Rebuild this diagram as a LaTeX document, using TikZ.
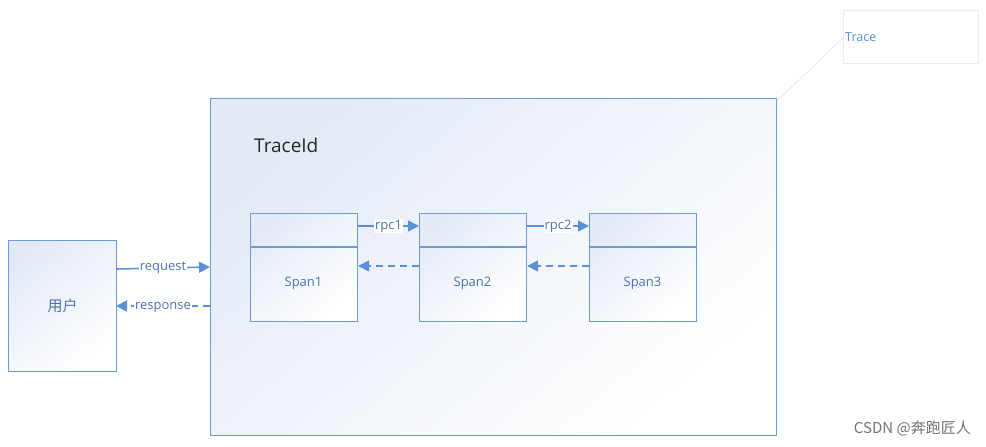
\documentclass[tikz,border=0pt]{standalone}
\usepackage{fontspec}
\setmainfont{Open Sans}
\newfontfamily\cjk{Noto Sans CJK SC}
\usetikzlibrary{arrows.meta}
\definecolor{edge}{HTML}{6E9BD3}
\definecolor{arr}{HTML}{5B8FD6}
\definecolor{txt}{HTML}{4A74B0}
\definecolor{fillA}{HTML}{E3EAF6}
\definecolor{tracebd}{HTML}{E6EDF8}
\tikzset{
  box/.style={draw=edge, line width=1.2pt, top color=fillA, bottom color=white, shading angle=40},
  conn/.style={draw=arr, line width=1.6pt, -{Triangle[length=11pt,width=11pt]}},
  lbl/.style={text=txt, font=\fontsize{13}{15}\selectfont, fill=white, inner sep=1pt},
  spanlbl/.style={text=txt, font=\fontsize{13}{15}\selectfont},
}
\begin{document}
\begin{tikzpicture}[x=1pt,y=-1pt]
\useasboundingbox (0,0) rectangle (986,447);
\fill[white] (0,0) rectangle (986,447);
% Trace callout
\node[draw=tracebd, line width=1pt, minimum width=135pt, minimum height=53pt, anchor=north west, inner sep=0pt] (tracebox) at (843,10) {};
\node[text=arr, font=\fontsize{12.5}{14}\selectfont, anchor=west, inner sep=1pt] (tracelbl) at (844,37) {Trace};
% big box
\node[box, minimum width=566pt, minimum height=337pt, anchor=north west, inner sep=0pt] (big) at (210,98) {};
\coordinate (bigtr) at (777,101);
\draw[tracebd, line width=1pt] (bigtr) -- (tracelbl.west);
\node[anchor=west, text=black!85, font=\fontsize{19}{21}\selectfont, inner sep=0pt] (traceid) at (254,145) {TraceId};
% user
\node[box, minimum width=108pt, minimum height=131pt, anchor=north west, inner sep=0pt] (user) at (8,240) {};
\node[text=txt, font=\cjk\fontsize{15}{17}\selectfont] at (user.center) {用户};
% spans
\foreach \i/\x in {1/250,2/419,3/589}{
  \node[box, minimum width=107pt, minimum height=108pt, anchor=north west, inner sep=0pt] (s\i) at (\x,213) {};
  \draw[edge, line width=1.2pt] (\x,247) -- (\x+107,247);
  \node[spanlbl] at (\x+53.5,283) {Span\i};
}
% request / response
\coordinate (rq1) at (116,269);
\coordinate (rq2) at (210,267);
\draw[conn] (rq1) -- node[lbl] {request} (rq2);
\coordinate (rs1) at (210,306);
\coordinate (rs2) at (116,306);
\draw[conn, dash pattern=on 7pt off 5pt] (rs1) -- node[lbl, yshift=-2pt] {response} (rs2);
% rpc
\draw[conn] (s1.east |- 0,226) -- node[lbl] {rpc1} (s2.west |- 0,226);
\draw[conn] (s2.east |- 0,226) -- node[lbl] {rpc2} (s3.west |- 0,226);
\draw[conn, dash pattern=on 7pt off 5pt] (s2.west |- 0,266) -- (s1.east |- 0,266);
\draw[conn, dash pattern=on 7pt off 5pt] (s3.west |- 0,266) -- (s2.east |- 0,266);
% watermark
\node[anchor=east, text=black!55, font=\cjk\fontsize{15}{17}\selectfont, inner sep=0pt] (wm) at (971,428) {CSDN @奔跑匠人};
\end{tikzpicture}
\end{document}
